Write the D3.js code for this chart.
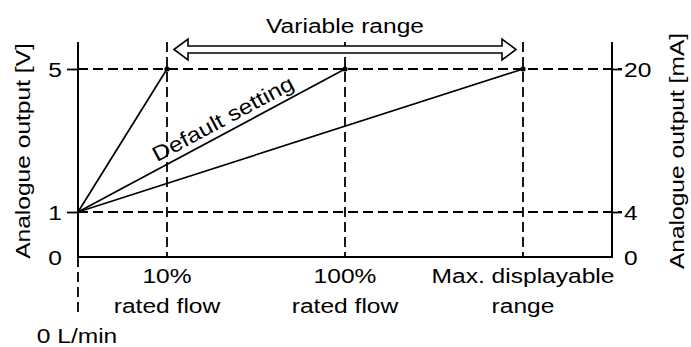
<!DOCTYPE html>
<html>
<head>
<meta charset="utf-8">
<script src="https://cdn.jsdelivr.net/npm/d3@7"></script>
<style>
  html, body { margin: 0; padding: 0; background: #fff; }
  svg { display: block; }
  text { font-family: "Liberation Sans", Arial, sans-serif; font-size: 21px; fill: #000; }
</style>
</head>
<body>
<svg id="chart" width="691" height="347"></svg>
<script>
// Flow axis: schematic positions of the marked flow rates
const flowLabels = [["0 L/min"], ["10%", "rated flow"], ["100%", "rated flow"], ["Max. displayable", "range"]];
const flowPos = [0, 1, 3, 5];
const flowAxisMax = 6;

// Output scales: voltage (left) and current (right)
const voltTicks = [0, 1, 5];
const currentTicks = [0, 4, 20];
const outMin = 1;        // output at 0 L/min [V]
const outMax = 5;        // full-scale output [V]

// Full-scale flow settings: 10 %, 100 % (default) and max. displayable range
const settingFlows = [1, 3, 5];
const defaultIndex = 1;

const headline = "Variable range";
const leftTitle = "Analogue output [V]";
const rightTitle = "Analogue output [mA]";
const defaultLabel = "Default setting";

const svg = d3.select("#chart");
const SX = 1.17; // horizontal stretch of the lettering
const ink = "#000";

const plotL = 78, plotR = 612, plotB = 257, plotT = 42;

const x = d3.scaleLinear().domain([0, flowAxisMax]).range([plotL, plotR]);
// schematic (non-uniform) output scale: 0 → 1 is compressed
const yV = d3.scaleLinear().domain(voltTicks).range([plotB, 212, 69]);
const yI = d3.scaleLinear().domain(currentTicks).range([plotB, 212, 69]);

function label(parent, str, px, py, anchor, rot = 0, dy = null) {
  const t = parent.append("text")
    .attr("transform", `translate(${px},${py}) rotate(${rot}) scale(${SX},1)`)
    .attr("text-anchor", anchor)
    .text(str);
  if (dy) t.attr("dy", dy);
  return t;
}

const dash = "10,5";

// horizontal dashed guides at 1 V and 5 V
svg.append("g").selectAll("line").data([outMin, outMax]).join("line")
  .attr("x1", plotL).attr("x2", plotR + 10)
  .attr("y1", d => yV(d)).attr("y2", d => yV(d))
  .attr("stroke", ink).attr("stroke-width", 1.8).attr("stroke-dasharray", dash);

// vertical dashed guides at the setting flows
svg.append("g").selectAll("line").data(settingFlows).join("line")
  .attr("x1", d => x(d)).attr("x2", d => x(d))
  .attr("y1", plotT).attr("y2", plotB)
  .attr("stroke", ink).attr("stroke-width", 1.8).attr("stroke-dasharray", dash);

// dashed extension of the zero-flow line below the axis
svg.append("line")
  .attr("x1", x(0)).attr("x2", x(0)).attr("y1", plotB).attr("y2", 313)
  .attr("stroke", ink).attr("stroke-width", 1.8).attr("stroke-dasharray", dash);

// frame: left axis, bottom axis, right axis
svg.append("path")
  .attr("d", `M${plotL},${plotT}V${plotB}H${plotR}V${plotT}`)
  .attr("fill", "none").attr("stroke", ink).attr("stroke-width", 2);

// left axis ticks + labels
const axL = svg.append("g").attr("transform", `translate(${plotL},0)`)
  .call(d3.axisLeft(yV).tickValues(voltTicks).tickSize(11).tickPadding(5).tickFormat(d3.format("d")));
axL.select(".domain").remove();
axL.selectAll(".tick line").attr("stroke", ink).attr("stroke-width", 1.8)
  .attr("display", d => d === 0 ? "none" : null);
axL.selectAll(".tick text").remove();
axL.selectAll(".tick").each(function (d) {
  label(d3.select(this), String(d), -16, 0, "end", 0, "0.36em");
});

// right axis ticks + labels
const axR = svg.append("g").attr("transform", `translate(${plotR},0)`)
  .call(d3.axisRight(yI).tickValues(currentTicks).tickSize(10).tickFormat(d3.format("d")));
axR.select(".domain").remove();
axR.selectAll(".tick line").attr("stroke", ink).attr("stroke-width", 1.8)
  .attr("display", d => d === 0 ? "none" : null);
axR.selectAll(".tick text").remove();
axR.selectAll(".tick").each(function (d) {
  label(d3.select(this), String(d), 12, 0, "start", 0, "0.36em");
});

// output lines from (0 L/min, 1 V) to each full-scale setting
svg.append("g").selectAll("line").data(settingFlows).join("line")
  .attr("x1", x(0)).attr("y1", yV(outMin))
  .attr("x2", d => x(d)).attr("y2", yV(outMax))
  .attr("stroke", ink).attr("stroke-width", 1.7);

svg.append("g").selectAll("circle").data(settingFlows).join("circle")
  .attr("cx", d => x(d)).attr("cy", yV(outMax)).attr("r", 2.6).attr("fill", ink);

// "Default setting" along the default line
{
  const x0 = x(0), y0 = yV(outMin), x1 = x(settingFlows[defaultIndex]), y1 = yV(outMax);
  const ang = Math.atan2(y1 - y0, x1 - x0);
  const t = 0.567;
  const px = x0 + (x1 - x0) * t, py = y0 + (y1 - y0) * t;
  const g = svg.append("g").attr("transform", `translate(${px},${py}) rotate(${ang * 180 / Math.PI})`);
  g.append("text").attr("transform", `translate(0,-6.5) scale(${SX},1)`)
    .attr("text-anchor", "middle").text(defaultLabel);
}

// double-headed hollow arrow for the variable range
{
  const xa = x(settingFlows[0]) + 7, xb = x(settingFlows[2]) - 7, cy = 49.5;
  const hs = 3.5, hh = 10.5, hl = 14;
  const p = [
    [xa, cy], [xa + hl, cy - hh], [xa + hl, cy - hs], [xb - hl, cy - hs], [xb - hl, cy - hh],
    [xb, cy], [xb - hl, cy + hh], [xb - hl, cy + hs], [xa + hl, cy + hs], [xa + hl, cy + hh]
  ];
  svg.append("path").attr("d", d3.line()(p) + "Z")
    .attr("fill", "#fff").attr("stroke", ink).attr("stroke-width", 1.6).attr("stroke-linejoin", "miter");
  label(svg, headline, (xa + xb) / 2, 33, "middle");
}

// flow-axis labels
flowLabels.forEach((lines, i) => {
  if (i === 0) {
    label(svg, lines[0], x(flowPos[i]) - 1, 343, "middle");
  } else {
    label(svg, lines[0], x(flowPos[i]), 283, "middle");
    label(svg, lines[1], x(flowPos[i]), 313, "middle");
  }
});

// axis titles
label(svg, leftTitle, 30, 151, "middle", -90);
label(svg, rightTitle, 684, 151, "middle", -90);
</script>
</body>
</html>
